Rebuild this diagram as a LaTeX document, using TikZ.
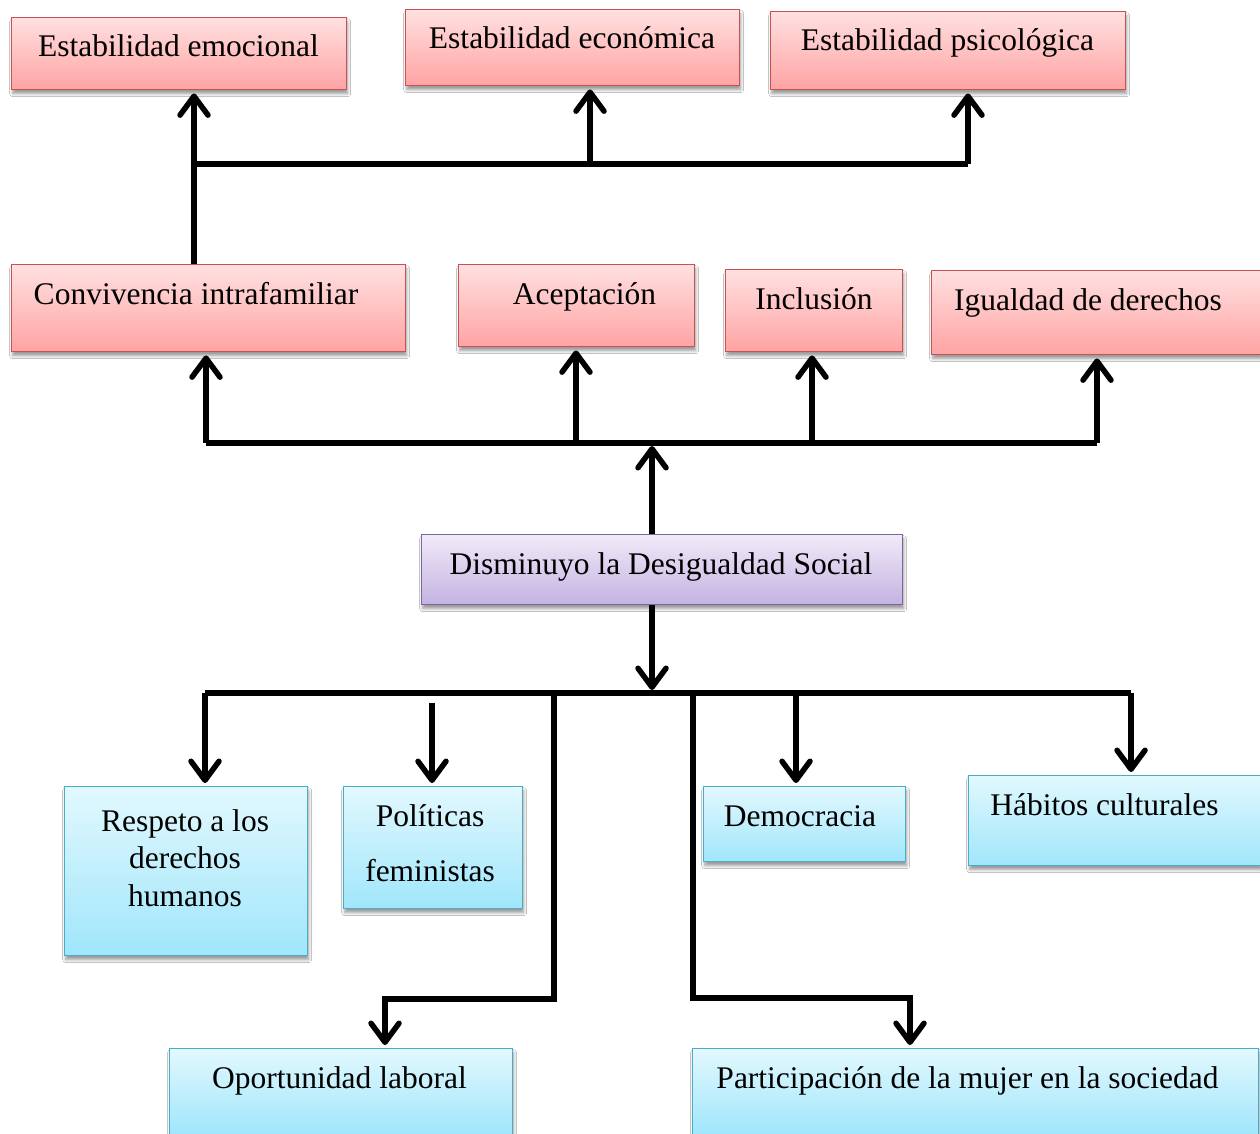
\documentclass[tikz,border=0pt]{standalone}
\usepackage{fontspec}
\setmainfont{Liberation Serif}
\usetikzlibrary{arrows.meta,shadows.blur,calc}
\definecolor{redtop}{RGB}{255,224,224}
\definecolor{redbot}{RGB}{255,163,163}
\definecolor{redline}{RGB}{200,82,80}
\definecolor{purtop}{RGB}{240,234,248}
\definecolor{purbot}{RGB}{196,178,226}
\definecolor{purline}{RGB}{128,100,162}
\definecolor{blutop}{RGB}{226,248,254}
\definecolor{blubot}{RGB}{160,230,251}
\definecolor{bluline}{RGB}{75,172,198}
\begin{document}
\begin{tikzpicture}[x=1pt,y=-1pt,
  boxbase/.style={rectangle, inner sep=0pt, line width=1.4pt, anchor=north west,
    blur shadow={shadow xshift=1pt, shadow yshift=-4pt, shadow blur radius=3pt, shadow opacity=40}},
  redbox/.style={boxbase, draw=redline, top color=redtop, bottom color=redbot},
  purbox/.style={boxbase, draw=purline, top color=purtop, bottom color=purbot},
  blubox/.style={boxbase, draw=bluline, top color=blutop, bottom color=blubot},
  txt/.style={inner sep=0pt, anchor=base, font=\fontsize{31.5}{37.5}\selectfont},
  conn/.style={line width=5.5pt},
  arr/.style={line width=5.5pt, -{Straight Barb[length=19pt,width=28pt,round]}, shorten >=3pt}]
\useasboundingbox (0,0) rectangle (1260,1134);
\fill[white] (0,0) rectangle (1260,1134);

% top row
\node[redbox, minimum width=335pt, minimum height=72pt] (emo) at (11,17) {};
\node[redbox, minimum width=334pt, minimum height=76pt] (eco) at (405,9) {};
\node[redbox, minimum width=355pt, minimum height=78pt] (psi) at (770,11) {};
% second row
\node[redbox, minimum width=394pt, minimum height=87pt] (conv) at (11,264) {};
\node[redbox, minimum width=236pt, minimum height=82pt] (acep) at (458,264) {};
\node[redbox, minimum width=177pt, minimum height=82pt] (incl) at (725,269) {};
\node[redbox, minimum width=329pt, minimum height=84pt] (igual) at (931,270) {};
% centre
\node[purbox, minimum width=481pt, minimum height=70pt] (dism) at (421,534) {};
% lower row
\node[blubox, minimum width=243pt, minimum height=169pt] (resp) at (64,786) {};
\node[blubox, minimum width=179pt, minimum height=122pt] (pol) at (343,786) {};
\node[blubox, minimum width=202pt, minimum height=75pt] (demo) at (703,786) {};
\node[blubox, minimum width=292pt, minimum height=90pt] (hab) at (968,775) {};
\node[blubox, minimum width=343pt, minimum height=86pt] (opor) at (169,1048) {};
\node[blubox, minimum width=566pt, minimum height=86pt] (part) at (692,1048) {};

% texts
\node[txt] (emoT) at (178.5,57) {Estabilidad emocional};
\node[txt] (ecoT) at (572,49) {Estabilidad económica};
\node[txt] (psiT) at (947.5,51) {Estabilidad psicológica};
\node[txt] (convT) at (196,304) {Convivencia intrafamiliar};
\node[txt] (acepT) at (584.5,304) {Aceptación};
\node[txt] (inclT) at (814,309) {Inclusión};
\node[txt] (igualT) at (1088,310) {Igualdad de derechos};
\node[txt] (dismT) at (661,574) {Disminuyo la Desigualdad Social};
\node[txt] (respT) at (185,831) {\begin{tabular}[t]{@{}c@{}}Respeto a los\\derechos\\humanos\end{tabular}};
\node[txt] (polT) at (430,826) {\begin{tabular}[t]{@{}c@{}}Políticas\\[17.5pt]feministas\end{tabular}};
\node[txt] (demoT) at (800,826) {Democracia};
\node[txt] (habT) at (1104.5,815) {Hábitos culturales};
\node[txt] (oporT) at (339.5,1088) {Oportunidad laboral};
\node[txt] (partT) at (967.5,1088) {Participación de la mujer en la sociedad};

% top connectors
\coordinate (t1) at (194,164);
\coordinate (t2) at (590,164);
\coordinate (t3) at (968,164);
\draw[conn] (t1) -- (t3);
\draw[arr] (t1 |- conv.north) -- (t1 |- emo.south);
\draw[arr] (t2) -- (t2 |- eco.south);
\draw[arr] (t3) -- (t3 |- psi.south);

% middle connectors
\coordinate (m1) at (206,443);
\coordinate (m2) at (576,443);
\coordinate (mc) at (652,443);
\coordinate (m3) at (812,443);
\coordinate (m4) at (1097,443);
\draw[conn] (m1) -- (m4);
\draw[arr] (m1) -- (m1 |- conv.south);
\draw[arr] (m2) -- (m2 |- acep.south);
\draw[arr] (m3) -- (m3 |- incl.south);
\draw[arr] (m4) -- (m4 |- igual.south);
\draw[arr] (mc |- dism.north) -- (mc);

% bottom connectors
\coordinate (b0) at (652,693);
\coordinate (bl) at (205,693);
\coordinate (br) at (1131,693);
\coordinate (bp) at (432,703);
\coordinate (bo) at (554,693);
\coordinate (bo2) at (385,999);
\coordinate (bq) at (693,693);
\coordinate (bq2) at (910,998);
\coordinate (bd) at (796,693);
\draw[arr] (b0 |- dism.south) -- (b0);
\draw[conn] (bl) -- (br);
\draw[arr] (bl) -- (bl |- resp.north);
\draw[arr] (bp) -- (bp |- pol.north);
\draw[arr] (bo) |- (bo2) -- (bo2 |- opor.north);
\draw[arr] (bq) |- (bq2) -- (bq2 |- part.north);
\draw[arr] (bd) -- (bd |- demo.north);
\draw[arr] (br) -- (br |- hab.north);
\end{tikzpicture}
\end{document}
